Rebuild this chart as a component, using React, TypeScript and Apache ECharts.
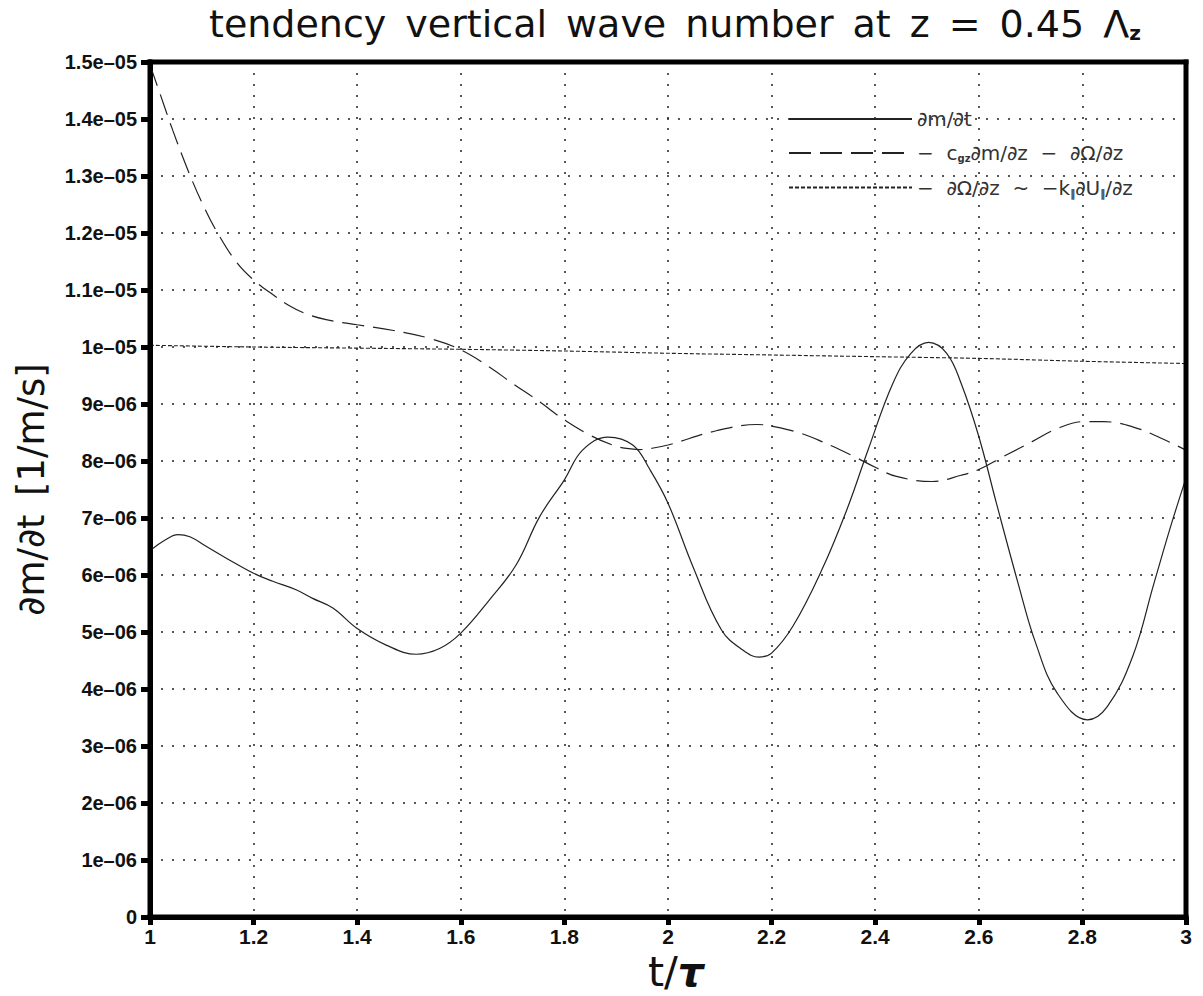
import React, { useEffect, useRef } from "react";
import * as echarts from "echarts";

// values in units of 1e-6 [1/m/s]
const tSolid = [1.0, 1.006, 1.03, 1.054, 1.077, 1.109, 1.154, 1.2, 1.237, 1.282, 1.314, 1.353, 1.4, 1.456, 1.514, 1.559, 1.6, 1.655, 1.707, 1.752, 1.8, 1.835, 1.884, 1.932, 1.965, 2.0, 2.048, 2.103, 2.145, 2.176, 2.2, 2.241, 2.297, 2.345, 2.386, 2.434, 2.469, 2.503, 2.538, 2.566, 2.6, 2.634, 2.676, 2.71, 2.752, 2.81, 2.848, 2.897, 2.938, 2.972, 3.0];
const vSolid = [6.44, 6.47, 6.62, 6.71, 6.67, 6.5, 6.26, 6.03, 5.89, 5.74, 5.59, 5.42, 5.06, 4.77, 4.61, 4.71, 4.98, 5.56, 6.18, 7.02, 7.67, 8.19, 8.42, 8.28, 7.85, 7.26, 6.15, 5.04, 4.68, 4.56, 4.63, 5.1, 6.09, 7.14, 8.19, 9.36, 9.89, 10.08, 9.89, 9.36, 8.43, 7.26, 5.85, 4.8, 3.92, 3.46, 3.69, 4.57, 5.85, 6.9, 7.7];

const tDashed = [1.0, 1.018, 1.044, 1.076, 1.102, 1.128, 1.166, 1.202, 1.237, 1.27, 1.302, 1.34, 1.4, 1.47, 1.54, 1.6, 1.655, 1.7, 1.752, 1.8, 1.848, 1.893, 1.92, 1.945, 1.966, 2.0, 2.093, 2.172, 2.207, 2.255, 2.297, 2.359, 2.4, 2.441, 2.51, 2.566, 2.6, 2.648, 2.703, 2.752, 2.802, 2.841, 2.897, 2.952, 3.0];
const vDashed = [14.95, 14.48, 13.8, 13.04, 12.5, 12.04, 11.5, 11.16, 10.92, 10.72, 10.58, 10.48, 10.39, 10.29, 10.15, 9.95, 9.65, 9.36, 9.04, 8.72, 8.46, 8.28, 8.22, 8.2, 8.22, 8.28, 8.53, 8.64, 8.6, 8.49, 8.34, 8.08, 7.89, 7.73, 7.64, 7.75, 7.85, 8.08, 8.34, 8.57, 8.69, 8.69, 8.6, 8.4, 8.19];

const tDotted = [1.0, 1.2, 1.4, 1.6, 1.8, 2.0, 2.2, 2.4, 2.6, 2.8, 3.0];
const vDotted = [10.03, 10.0, 9.98, 9.96, 9.93, 9.89, 9.86, 9.83, 9.8, 9.75, 9.71];

const yTickLabels = ["0", "1e–06", "2e–06", "3e–06", "4e–06", "5e–06", "6e–06", "7e–06", "8e–06", "9e–06", "1e–05", "1.1e–05", "1.2e–05", "1.3e–05", "1.4e–05", "1.5e–05"];
const xTickLabels = ["1", "1.2", "1.4", "1.6", "1.8", "2", "2.2", "2.4", "2.6", "2.8", "3"];

const seriesNames = ["s1", "s2", "s3"];
const legendTexts: Record<string, string> = {
  s1: "{a|∂m/∂t}",
  s2: "{a|−  c}{s|gz}{a|∂m/∂z  −  ∂Ω/∂z}",
  s3: "{a|−  ∂Ω/∂z  ~  −k}{s|‖}{a|∂U}{s|‖}{a|/∂z}",
};

const pairs = (t: number[], v: number[]) => t.map((x, i) => [x, v[i]]);

export default function App() {
  const ref = useRef<HTMLDivElement>(null);
  useEffect(() => {
    if (!ref.current) return;
    const chart = echarts.init(ref.current, null, { renderer: "svg" });
    const gridLine = { show: true, lineStyle: { color: "#222", width: 1.5, type: [2, 9] as any } };
    const E = "\u2002";
    const L = 150, T = 62, R = 1186, B = 917;
    const frame = (x1: number, y1: number, x2: number, y2: number) => ({
      type: "line",
      z: 100,
      silent: true,
      shape: { x1, y1, x2, y2 },
      style: { stroke: "#000", lineWidth: 5, lineCap: "square" },
    });
    chart.setOption({
      animation: false,
      backgroundColor: "#fff",
      title: {
        text: `{a|tendency${E}vertical${E}wave${E}number${E}at${E}z${E}=${E}0.45${E}Λ}{s|z}`,
        left: 204,
        top: 0,
        textStyle: {
          rich: {
            a: { fontFamily: "DejaVu Sans", fontSize: 38, color: "#111", fontWeight: "normal" },
            s: { fontFamily: "DejaVu Sans", fontSize: 20, color: "#111", fontWeight: "bold", verticalAlign: "bottom" },
          },
        },
      },
      legend: {
        orient: "vertical",
        left: 783,
        top: 104,
        itemWidth: 123,
        itemHeight: 14,
        itemGap: 14,
        data: seriesNames,
        itemStyle: { opacity: 0 },
        formatter: (n: string) => legendTexts[n],
        textStyle: {
          rich: {
            a: { fontFamily: "DejaVu Sans", fontSize: 20, lineHeight: 21, color: "#333" },
            s: { fontFamily: "DejaVu Sans", fontSize: 10, lineHeight: 21, fontWeight: "bold", color: "#333", verticalAlign: "bottom" },
          },
        },
      },
      grid: { left: L, right: 1203 - R, top: T, bottom: 996 - B, outerBoundsMode: "none", show: false },
      graphic: [frame(L, T, R, T), frame(R, T, R, B), frame(L, B, R, B), frame(L, T, L, B)],
      xAxis: {
        type: "value",
        min: 1,
        max: 3,
        interval: 0.2,
        name: "{a|t/}{b|τ}",
        nameLocation: "middle",
        nameGap: 10,
        nameTextStyle: {
          padding: [0, 0, 0, 16],
          rich: {
            a: { fontFamily: "DejaVu Sans", fontSize: 41, color: "#111" },
            b: { fontFamily: "DejaVu Sans", fontSize: 41, color: "#111", fontStyle: "italic", fontWeight: "bold" },
          },
        },
        axisLine: { show: true, lineStyle: { color: "#000", width: 5 } },
        axisTick: { show: true, length: 8, lineStyle: { color: "#000", width: 5 } },
        axisLabel: {
          margin: 9,
          fontFamily: "Liberation Sans",
          fontWeight: "bold",
          fontSize: 21,
          color: "#111",
          formatter: (v: number) => xTickLabels[Math.round((v - 1) * 5)],
        },
        splitLine: gridLine,
      },
      yAxis: {
        type: "value",
        min: 0,
        max: 15,
        interval: 1,
        name: `∂m/∂t${E}[1/m/s]`,
        nameLocation: "middle",
        nameRotate: 90,
        nameGap: 100,
        nameTextStyle: { fontFamily: "DejaVu Sans", fontSize: 37, color: "#111" },
        axisLine: { show: true, lineStyle: { color: "#000", width: 5 } },
        axisTick: { show: true, length: 9, lineStyle: { color: "#000", width: 5 } },
        axisLabel: {
          margin: 13,
          fontFamily: "Liberation Sans",
          fontWeight: "bold",
          fontSize: 20,
          color: "#111",
          formatter: (v: number) => yTickLabels[Math.round(v)],
        },
        splitLine: gridLine,
      },
      series: [
        {
          name: "s1",
          type: "line",
          data: pairs(tSolid, vSolid),
          smooth: 0.4,
          symbol: "none",
          lineStyle: { color: "#222", width: 1.2, type: "solid" },
          itemStyle: { color: "#222" },
        },
        {
          name: "s2",
          type: "line",
          data: pairs(tDashed, vDashed),
          smooth: 0.4,
          symbol: "none",
          lineStyle: { color: "#222", width: 1.2, type: [22, 9] },
          itemStyle: { color: "#222" },
        },
        {
          name: "s3",
          type: "line",
          data: pairs(tDotted, vDotted),
          smooth: 0.3,
          symbol: "none",
          lineStyle: { color: "#222", width: 1.1, type: [4, 2] },
          itemStyle: { color: "#222" },
        },
      ],
    });
    return () => chart.dispose();
  }, []);
  return <div ref={ref} style={{ width: 1203, height: 996, position: "absolute", left: 0, top: 0 }} />;
}
